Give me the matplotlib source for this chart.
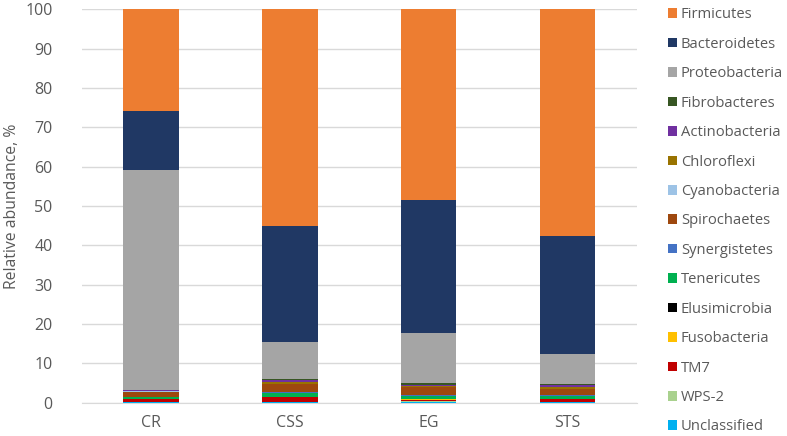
import matplotlib.pyplot as plt
import numpy as np

plt.rcParams['font.family'] = ['Open Sans', 'DejaVu Sans']

# Sample groups
groups = ['CR', 'CSS', 'EG', 'STS']

# Phyla, stacked from the bottom up
phyla = ['Unclassified', 'WPS-2', 'TM7', 'Fusobacteria', 'Elusimicrobia', 'Tenericutes',
         'Synergistetes', 'Spirochaetes', 'Cyanobacteria', 'Chloroflexi', 'Actinobacteria',
         'Fibrobacteres', 'Proteobacteria', 'Bacteroidetes', 'Firmicutes']

# Relative abundance (%) per phylum, order CR, CSS, EG, STS
unclassified = [0.10, 0.10, 0.30, 0.10]
wps2 = [0.05, 0.05, 0.05, 0.05]
tm7 = [0.80, 1.30, 0.50, 0.85]
fusobacteria = [0.05, 0.05, 0.05, 0.05]
elusimicrobia = [0.05, 0.05, 0.10, 0.05]
tenericutes = [0.35, 1.00, 0.80, 0.75]
synergistetes = [0.05, 0.10, 0.10, 0.10]
spirochaetes = [1.40, 2.10, 2.20, 1.60]
cyanobacteria = [0.05, 0.05, 0.05, 0.05]
chloroflexi = [0.10, 0.40, 0.20, 0.50]
actinobacteria = [0.20, 0.70, 0.30, 0.50]
fibrobacteres = [0.05, 0.15, 0.40, 0.10]
proteobacteria = [55.80, 9.45, 12.70, 7.80]
bacteroidetes = [15.00, 29.50, 33.80, 30.00]
firmicutes = [25.95, 55.00, 48.45, 57.50]

values = [unclassified, wps2, tm7, fusobacteria, elusimicrobia, tenericutes, synergistetes,
          spirochaetes, cyanobacteria, chloroflexi, actinobacteria, fibrobacteres,
          proteobacteria, bacteroidetes, firmicutes]

colors = ['#00B0F0', '#A9D18E', '#C00000', '#FFC000', '#000000', '#00B050', '#4472C4',
          '#9E480E', '#9DC3E6', '#997300', '#7030A0', '#375623', '#A5A5A5', '#203864',
          '#ED7D31']

fig = plt.figure(figsize=(7.87, 4.36), dpi=100)
ax = fig.add_axes([0.104, 0.076, 0.705, 0.903])

x = np.arange(len(groups))
bottom = np.zeros(len(groups))
handles = []
for name, vals, col in zip(phyla, values, colors):
    b = ax.bar(x, vals, 0.4, bottom=bottom, color=col, label=name, zorder=3)
    handles.append(b)
    bottom += np.array(vals)

ax.set_xlim(-0.5, len(groups) - 0.5)
ax.set_ylim(0, 100)
ax.set_yticks(range(0, 101, 10))
ax.set_xticks(x)
ax.set_xticklabels(groups)
ax.grid(axis='y', color='#D9D9D9', linewidth=1, zorder=0)
for s in ['top', 'right', 'left']:
    ax.spines[s].set_visible(False)
ax.spines['bottom'].set_color('#D9D9D9')
ax.tick_params(length=0, labelsize=11.5, colors='#595959')
ax.tick_params(axis='x', pad=9)
ax.tick_params(axis='y', pad=21)
ax.set_ylabel('Relative abundance, %', fontsize=11.3, color='#595959')
ax.yaxis.set_label_coords(-0.112, 0.5)

leg = fig.legend(handles[::-1], phyla[::-1], loc='upper left', bbox_to_anchor=(0.849, 0.983),
                 frameon=False, fontsize=10.6, labelspacing=0.98, handlelength=0.62,
                 handleheight=0.62, handletextpad=0.25, borderpad=0, borderaxespad=0)
for t in leg.get_texts():
    t.set_color('#595959')

fig.savefig('out.png', dpi=100)
